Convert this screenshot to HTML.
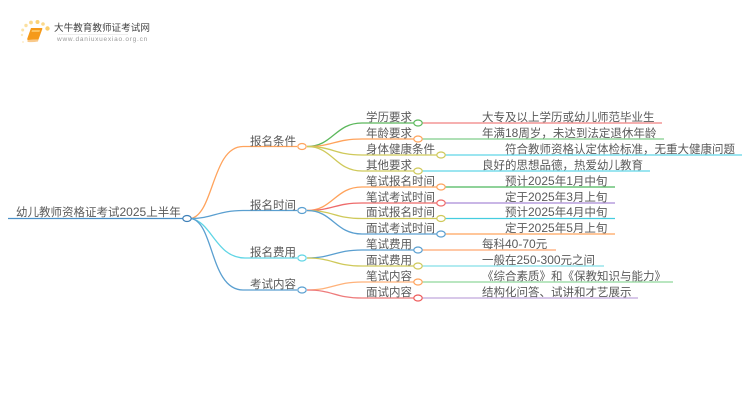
<!DOCTYPE html>
<html><head><meta charset="utf-8"><style>
html,body{margin:0;padding:0;background:#fff}
svg{display:block;filter:blur(.35px)}
text{font-family:"Liberation Sans","Noto Sans CJK SC",sans-serif;font-size:11.5px;fill:#5a5a5a}
tspan{font-size:12px}
</style></head><body>
<svg width="750" height="410" viewBox="0 0 750 410" xmlns="http://www.w3.org/2000/svg">
<rect width="750" height="410" fill="#fff"/>
<!-- logo -->
<g>
<circle cx="22.700" cy="30" r="1.500" fill="#fbe3a8"/><circle cx="22" cy="35" r="1.200" fill="#fbe9bd"/>
<circle cx="26" cy="25.500" r="1.700" fill="#fbe0a0"/><circle cx="31" cy="22.500" r="1.900" fill="#fbd98c"/>
<circle cx="37.500" cy="22" r="2" fill="#fbd277"/><circle cx="43" cy="24" r="1.800" fill="#fbd98c"/>
<circle cx="47.500" cy="28.500" r="2.200" fill="#fbcf6e"/><circle cx="23" cy="42" r="1" fill="#fdeecd"/>
<path d="M31 28 L42 28 Q42.500 28 42.300 29 L38.500 39.500 L28 40 Q27 40 27.300 38.500 Z" fill="#f59a1a"/>
<path d="M28 40 L38.500 39.500 L38 41.500 Q33 42.500 28 42 Q26.500 41 28 40 Z" fill="#f9c98a"/>
<path d="M32 30 L40 30 L39.500 32 L31.500 32 Z" fill="#fbc25e"/>
<text x="54" y="31" style="font-size:9.600px;fill:#444">大牛教育教师证考试网</text>
<rect x="58" y="34" width="70" height="1" fill="#eee"/>
<text x="57" y="41" style="font-size:6.500px;fill:#999;letter-spacing:.75px">www.daniuxuexiao.org.cn</text>
</g>
<g fill="none" stroke-width="1.300">
<!-- root -->
<path d="M8 218.500H183" stroke="#4a90c8"/>
<!-- level 1 -->
<path d="M191 218.500C214 214 212 146.500 243 146.500H297" stroke="#ffa35c"/>
<path d="M191 218.500C212 218.500 218 210.500 243 210.500H297" stroke="#5a9fd0"/>
<path d="M191 218.500C212 222 216 258 245 258H297" stroke="#5fd5e5"/>
<path d="M191 218.500C214 222 210 290 243 290H297" stroke="#5a9fd0"/>
<!-- level 2 -->
<path d="M307 146.500C333 146.500 335 123 362 123H414" stroke="#5cb85c"/>
<path d="M307 146.500C333 146.500 335 139 362 139H414" stroke="#ffa35c"/>
<path d="M307 146.500C333 146.500 335 155 362 155H437" stroke="#cfc95a"/>
<path d="M307 146.500C333 146.500 335 171 362 171H414" stroke="#cfc95a"/>
<path d="M307 210.500C333 210.500 335 187 362 187H437" stroke="#ffa35c"/>
<path d="M307 210.500C333 210.500 335 203 362 203H437" stroke="#ee6b6b"/>
<path d="M307 210.500C333 210.500 335 218.500 362 218.500H437" stroke="#cfc95a"/>
<path d="M307 210.500C333 210.500 335 234 362 234H437" stroke="#5a9fd0"/>
<path d="M307 258C333 258 335 250 362 250H414" stroke="#5a9fd0"/>
<path d="M307 258C333 258 335 266 362 266H414" stroke="#cfc95a"/>
<path d="M307 290C333 290 335 282 362 282H414" stroke="#ffb27a"/>
<path d="M307 290C333 290 335 298 362 298H414" stroke="#ee7b7b"/>
<!-- level 3 -->
<path d="M422 123H662" stroke="#f08080"/>
<path d="M422 139H664" stroke="#7fce8a"/>
<path d="M445 155H742" stroke="#5fd5e8"/>
<path d="M422 171H650" stroke="#5fd5e8"/>
<path d="M445 187H615" stroke="#4cb85c"/>
<path d="M445 203H615" stroke="#a98ad6"/>
<path d="M445 218.500H615" stroke="#45cde0"/>
<path d="M445 234H615" stroke="#ffa35c"/>
<path d="M422 250H556" stroke="#ffa870"/>
<path d="M422 266H604" stroke="#85dfe8"/>
<path d="M422 282H673" stroke="#8fd69a"/>
<path d="M422 298H638" stroke="#c0a6dc"/>
</g>
<!-- nodes -->
<g fill="#fff" stroke-width="1.200">
<ellipse cx="187" cy="218.500" rx="4.200" ry="3" stroke="#3f80b8"/>
<ellipse cx="302" cy="146.500" rx="4.200" ry="3" stroke="#ffa35c"/>
<ellipse cx="302" cy="210.500" rx="4.200" ry="3" stroke="#5a9fd0"/>
<ellipse cx="302" cy="258" rx="4.200" ry="3" stroke="#5fd5e5"/>
<ellipse cx="302" cy="290" rx="4.200" ry="3" stroke="#5a9fd0"/>
<ellipse cx="418" cy="123" rx="4.200" ry="3" stroke="#5cb85c"/>
<ellipse cx="418" cy="139" rx="4.200" ry="3" stroke="#ffa35c"/>
<ellipse cx="441" cy="155" rx="4.200" ry="3" stroke="#cfc95a"/>
<ellipse cx="418" cy="171" rx="4.200" ry="3" stroke="#cfc95a"/>
<ellipse cx="441" cy="187" rx="4.200" ry="3" stroke="#ffa35c"/>
<ellipse cx="441" cy="203" rx="4.200" ry="3" stroke="#ee6b6b"/>
<ellipse cx="441" cy="218.500" rx="4.200" ry="3" stroke="#cfc95a"/>
<ellipse cx="441" cy="234" rx="4.200" ry="3" stroke="#5a9fd0"/>
<ellipse cx="418" cy="250" rx="4.200" ry="3" stroke="#5a9fd0"/>
<ellipse cx="418" cy="266" rx="4.200" ry="3" stroke="#cfc95a"/>
<ellipse cx="418" cy="282" rx="4.200" ry="3" stroke="#ffa35c"/>
<ellipse cx="418" cy="298" rx="4.200" ry="3" stroke="#ee5b5b"/>
</g>
<!-- labels -->
<g>
<text x="16" y="216">幼儿教师资格证考试<tspan>2025</tspan>上半年</text>
<text x="250" y="145">报名条件</text>
<text x="250" y="209">报名时间</text>
<text x="250" y="256">报名费用</text>
<text x="250" y="288">考试内容</text>
<text x="366" y="121">学历要求</text>
<text x="366" y="137">年龄要求</text>
<text x="366" y="153">身体健康条件</text>
<text x="366" y="169">其他要求</text>
<text x="366" y="185">笔试报名时间</text>
<text x="366" y="201">笔试考试时间</text>
<text x="366" y="216">面试报名时间</text>
<text x="366" y="232">面试考试时间</text>
<text x="366" y="248">笔试费用</text>
<text x="366" y="264">面试费用</text>
<text x="366" y="280">笔试内容</text>
<text x="366" y="296">面试内容</text>
<text x="482" y="121">大专及以上学历或幼儿师范毕业生</text>
<text x="482" y="137">年满<tspan>18</tspan>周岁，未达到法定退休年龄</text>
<text x="505" y="153">符合教师资格认定体检标准，无重大健康问题</text>
<text x="482" y="169">良好的思想品德，热爱幼儿教育</text>
<text x="505" y="185">预计<tspan>2025</tspan>年<tspan>1</tspan>月中旬</text>
<text x="505" y="201">定于<tspan>2025</tspan>年<tspan>3</tspan>月上旬</text>
<text x="505" y="216">预计<tspan>2025</tspan>年<tspan>4</tspan>月中旬</text>
<text x="505" y="232">定于<tspan>2025</tspan>年<tspan>5</tspan>月上旬</text>
<text x="482" y="248">每科<tspan>40-70</tspan>元</text>
<text x="482" y="264">一般在<tspan>250-300</tspan>元之间</text>
<text x="482" y="280">《综合素质》和《保教知识与能力》</text>
<text x="482" y="296">结构化问答、试讲和才艺展示</text>
</g>
</svg>
</body></html>
